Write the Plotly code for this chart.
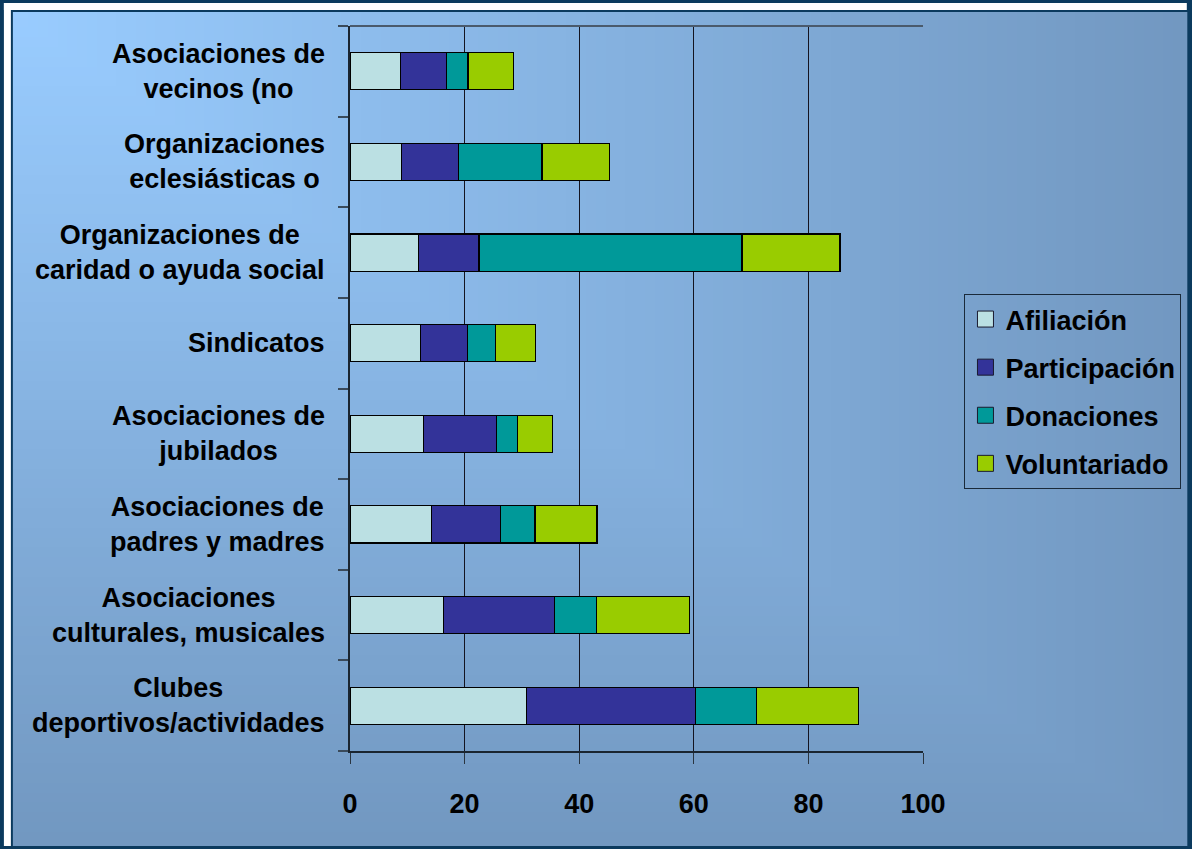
import base64, struct, zlib
import plotly.graph_objects as go

# ---------------- data ----------------
categories = [
    "Clubes<br>deportivos/actividades",
    "Asociaciones<br>culturales, musicales",
    "Asociaciones de<br>padres y madres",
    "Asociaciones de<br>jubilados",
    "Sindicatos",
    "Organizaciones de<br>caridad o ayuda social",
    "Organizaciones<br>eclesiásticas o",
    "Asociaciones de<br>vecinos (no",
]
afiliacion = [30.8, 16.3, 14.2, 12.8, 12.3, 11.9, 9.0, 8.8]
participacion = [29.5, 19.4, 12.0, 12.7, 8.2, 10.6, 9.9, 8.1]
donaciones = [10.7, 7.3, 6.1, 3.8, 4.9, 45.9, 14.6, 3.7]
voluntariado = [17.7, 16.2, 10.8, 6.0, 7.0, 17.1, 11.8, 7.9]
series_names = ["Afiliación", "Participación", "Donaciones", "Voluntariado"]
x_ticks = [0, 20, 40, 60, 80, 100]

# ---------------- style ----------------
colors = ["#BBE0E3", "#333399", "#009999", "#99CC00"]
FONT = "Liberation Sans, Arial, sans-serif"
W, H = 1192, 849
L, R, T, B = 350, 267.5, 26, 98
PW, PH = W - L - R, H - T - B


def gradient_png(w=120, h=85):
    c0 = (153, 204, 255)
    c1 = (114, 152, 193)
    rows = b""
    for j in range(h):
        rows += b"\x00"
        for i in range(w):
            t = max(i / (w - 1), j / (h - 1))
            px = bytes(int(round(c0[k] + (c1[k] - c0[k]) * t)) for k in range(3))
            rows += px

    def chunk(tag, data):
        c = struct.pack(">I", len(data)) + tag + data
        return c + struct.pack(">I", zlib.crc32(tag + data) & 0xFFFFFFFF)

    png = b"\x89PNG\r\n\x1a\n"
    png += chunk(b"IHDR", struct.pack(">IIBBBBB", w, h, 8, 2, 0, 0, 0))
    png += chunk(b"IDAT", zlib.compress(rows, 9))
    png += chunk(b"IEND", b"")
    return "data:image/png;base64," + base64.b64encode(png).decode()


def px_x(p):
    return (p - L) / PW


def px_y(p):
    return 1 - (p - T) / PH


fig = go.Figure()
for name, vals, col in zip(series_names, [afiliacion, participacion, donaciones, voluntariado], colors):
    fig.add_trace(go.Bar(
        y=categories, x=vals, name=name, orientation="h",
        marker=dict(color=col, line=dict(color="#000000", width=1.2)),
        showlegend=False, hoverinfo="x+name",
    ))
# legend proxies with square swatches
for i, (name, col) in enumerate(zip(series_names, colors)):
    fig.add_trace(go.Scatter(
        x=[None], y=[None], mode="markers", name=name, legendgroup=f"g{i}",
        marker=dict(symbol="square", size=26, color=col, line=dict(color="#1a1a2e", width=1)),
    ))

for cat in categories:
    fig.add_annotation(
        x=0, xref="paper", y=cat, yref="y", text=f"<b>{cat}</b>", showarrow=False,
        xanchor="right", yanchor="middle", align="center", xshift=-23,
        font=dict(family=FONT, size=27, color="#000000"),
    )

shapes = [
    # frame (white offset band)
    dict(type="rect", xref="paper", yref="paper", x0=px_x(3), x1=px_x(1189), y0=px_y(3), y1=px_y(10),
         fillcolor="#FFFFFF", line=dict(width=0), layer="below"),
    dict(type="rect", xref="paper", yref="paper", x0=px_x(3), x1=px_x(10), y0=px_y(3), y1=px_y(846),
         fillcolor="#FFFFFF", line=dict(width=0), layer="below"),
    # top border of plot area (greyish)
    dict(type="line", xref="paper", yref="paper", x0=0, x1=1, y0=1, y1=1,
         line=dict(color="#4a5a6c", width=2), layer="above"),
]

fig.update_layout(
    width=W, height=H,
    margin=dict(l=L, r=R, t=T, b=B, pad=0),
    paper_bgcolor="#0B3A5E",
    plot_bgcolor="rgba(0,0,0,0)",
    barmode="stack", bargap=0.59,
    font=dict(family=FONT, color="#000000"),
    shapes=shapes,
    images=[dict(source=gradient_png(), xref="paper", yref="paper",
                 x=px_x(12), y=px_y(12), sizex=(1189.5 - 12) / PW, sizey=(846 - 12) / PH,
                 xanchor="left", yanchor="top", sizing="stretch", layer="below")],
    legend=dict(
        x=px_x(965), y=px_y(294), xanchor="left", yanchor="top",
        bgcolor="rgba(0,0,0,0)", bordercolor="#1a2a3a", borderwidth=1,
        font=dict(family=FONT, size=27, color="#000000", weight="bold"),
        traceorder="grouped", tracegroupgap=10, itemwidth=30,
    ),
    xaxis=dict(
        range=[0, 100], tickvals=x_ticks, ticktext=[str(v) for v in x_ticks],
        showgrid=True, gridcolor="#141420", gridwidth=1,
        showline=True, linecolor="#1a2530", linewidth=2, mirror=False,
        ticks="outside", ticklen=11, tickcolor="#2a3540", tickwidth=1,
        tickfont=dict(family=FONT, size=27, color="#000000", weight="bold"),
        ticklabelstandoff=17, zeroline=False, fixedrange=True,
    ),
    yaxis=dict(
        type="category", categoryorder="array", categoryarray=categories,
        showticklabels=False, tickson="boundaries",
        ticks="outside", ticklen=10, tickcolor="#3a4a5a", tickwidth=2,
        showline=True, linecolor="#1a2530", linewidth=2,
        showgrid=False, zeroline=False, fixedrange=True,
    ),
)

fig.write_html(
    "out.html",
    config={"displayModeBar": False},
    post_script="document.body.style.margin='0';document.body.style.overflow='hidden';",
)
